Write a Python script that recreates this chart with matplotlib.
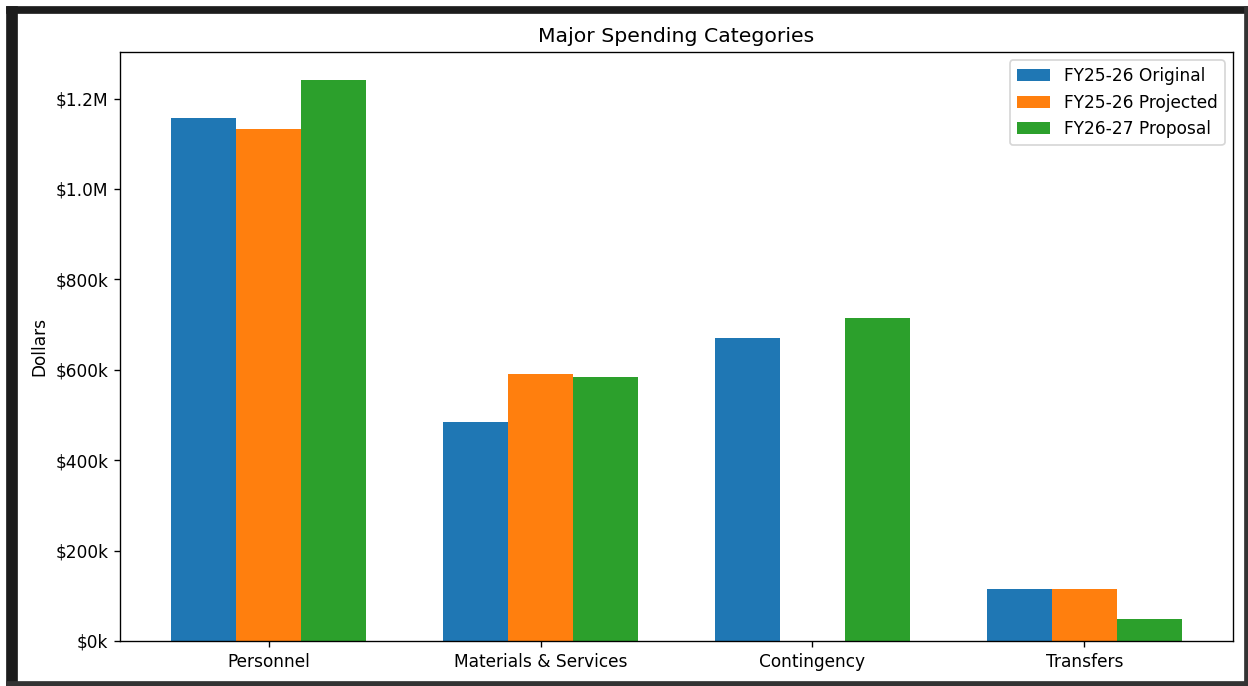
import numpy as np
import matplotlib
matplotlib.use("Agg")
import matplotlib.pyplot as plt
from matplotlib.patches import Rectangle
from matplotlib.ticker import FuncFormatter

categories = ["Personnel", "Materials & Services", "Contingency", "Transfers"]
series_names = ["FY25-26 Original", "FY25-26 Projected", "FY26-27 Proposal"]
original = [1157000, 484000, 671000, 114000]
projected = [1132000, 591000, 0, 114000]
proposal = [1241000, 584000, 714000, 49000]
colors = ["#1f77b4", "#ff7f0e", "#2ca02c"]

W, H, DPI = 1248, 686, 122
fig = plt.figure(figsize=(W / DPI, H / DPI), dpi=DPI)

# axes placed in pixel terms
left, right, top, bottom = 120, 1233, 52, 641
ax = fig.add_axes([left / W, 1 - bottom / H, (right - left) / W, (bottom - top) / H])

x = np.arange(len(categories))
width = 0.24
for i, (vals, name) in enumerate(zip([original, projected, proposal], series_names)):
    ax.bar(x + (i - 1) * width, vals, width, label=name, color=colors[i])


def dollars(v, pos):
    if v >= 1e6:
        return f"${v / 1e6:.1f}M"
    return f"${v / 1e3:.0f}k"


ax.yaxis.set_major_formatter(FuncFormatter(dollars))
ax.set_xticks(x)
ax.set_xticklabels(categories)
ax.set_ylabel("Dollars")
ax.set_title("Major Spending Categories")
ax.legend(loc="upper right")

# screenshot frame
frame = [(7, 7, 10, 679, "#1c1c1c"),
         (7, 7, 1241, 6, "#1c1c1c"),
         (1245, 7, 3, 679, "#333333"),
         (7, 682, 1241, 4, "#333333")]
for fx, fy, fw, fh, c in frame:
    fig.patches.append(Rectangle((fx / W, 1 - (fy + fh) / H), fw / W, fh / H,
                                 transform=fig.transFigure, color=c, zorder=10))

fig.savefig("out.png", dpi=DPI)
